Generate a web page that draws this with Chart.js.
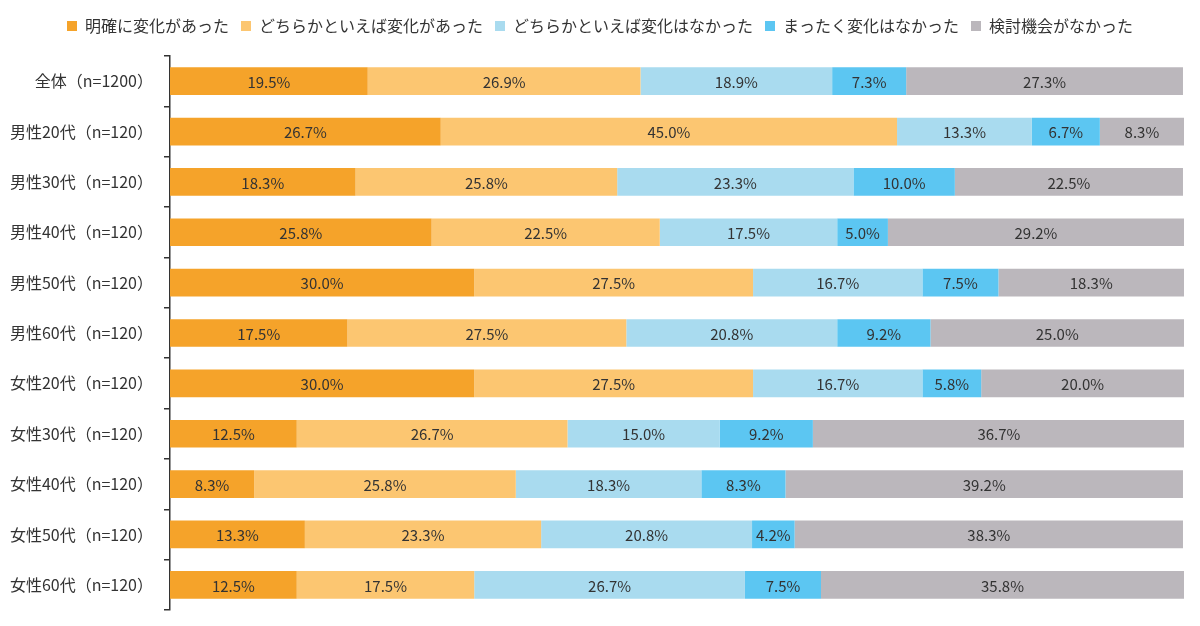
<!DOCTYPE html>
<html lang="ja">
<head>
    <meta charset="UTF-8">
    <title>Chart</title>
    <script src="https://cdn.jsdelivr.net/npm/chart.js"></script>
    <style>
        body { margin: 0; background: #fff; }
        #wrap { width: 1200px; height: 626px; }
    </style>
</head>
<body>
    <div id="wrap">
        <canvas id="grafico" width="1200" height="626"></canvas>
    </div>
    <script>
        const categorias = ["全体（n=1200）", "男性20代（n=120）", "男性30代（n=120）", "男性40代（n=120）", "男性50代（n=120）", "男性60代（n=120）", "女性20代（n=120）", "女性30代（n=120）", "女性40代（n=120）", "女性50代（n=120）", "女性60代（n=120）"]
        const series = ["明確に変化があった", "どちらかといえば変化があった", "どちらかといえば変化はなかった", "まったく変化はなかった", "検討機会がなかった"]

        const meikaku = [19.5, 26.7, 18.3, 25.8, 30.0, 17.5, 30.0, 12.5, 8.3, 13.3, 12.5]
        const dochiraAri = [26.9, 45.0, 25.8, 22.5, 27.5, 27.5, 27.5, 26.7, 25.8, 23.3, 17.5]
        const dochiraNashi = [18.9, 13.3, 23.3, 17.5, 16.7, 20.8, 16.7, 15.0, 18.3, 20.8, 26.7]
        const mattaku = [7.3, 6.7, 10.0, 5.0, 7.5, 9.2, 5.8, 9.2, 8.3, 4.2, 7.5]
        const kentou = [27.3, 8.3, 22.5, 29.2, 18.3, 25.0, 20.0, 36.7, 39.2, 38.3, 35.8]

        const cores = ["#F5A32A", "#FCC671", "#A9DBEF", "#5CC6F2", "#BBB7BC"]
        const fonte = "'Noto Sans CJK JP', 'Noto Sans', sans-serif"

        // rotulos no centro de cada segmento
        const rotulos = {
          id: 'rotulos',
          afterDatasetsDraw(chart) {
            const ctx = chart.ctx
            ctx.save()
            ctx.font = "15px " + fonte
            ctx.fillStyle = "#333"
            ctx.textAlign = "center"
            ctx.textBaseline = "middle"
            chart.data.datasets.forEach((ds, i) => {
              chart.getDatasetMeta(i).data.forEach((el, j) => {
                const v = ds.data[j]
                ctx.fillText(v.toFixed(1) + "%", (el.x + el.base) / 2, el.y + 1)
              })
            })
            ctx.restore()
          }
        }

        // espaco extra abaixo da legenda e legenda centralizada na pagina
        const ajusteLegenda = {
          id: 'ajusteLegenda',
          beforeInit(chart) {
            const fitOrig = chart.legend.fit
            chart.legend.fit = function () {
              fitOrig.bind(chart.legend)()
              this.height += 12
            }
          },
          afterLayout(chart) {
            chart.legend.left = 16
          }
        }

        const ctx = document.getElementById('grafico')
        const valores = [meikaku, dochiraAri, dochiraNashi, mattaku, kentou]

        let grafico = new Chart(ctx, {
          type: 'bar',
          data: {
            labels: categorias,
            datasets: series.map((nome, i) => ({
              label: nome,
              data: valores[i],
              backgroundColor: cores[i],
              borderWidth: 0,
              categoryPercentage: 1,
              barPercentage: 0.55
            }))
          },
          options: {
            indexAxis: 'y',
            responsive: false,
            animation: false,
            layout: { padding: { left: 0, right: 16, bottom: 16, top: 6 } },
            plugins: {
              tooltip: { enabled: false },
              legend: {
                position: 'top',
                labels: {
                  boxWidth: 10,
                  boxHeight: 10,
                  padding: 12,
                  color: "#333",
                  font: { size: 16, family: fonte }
                }
              }
            },
            scales: {
              x: {
                stacked: true,
                min: 0,
                max: 100,
                display: false
              },
              y: {
                stacked: true,
                afterFit(scale) {
                  scale.width = 170
                  scale.paddingBottom = 0
                },
                grid: {
                  offset: true,
                  drawOnChartArea: false,
                  tickLength: 6,
                  color: "#333",
                  lineWidth: 1.5
                },
                border: { color: "#333", width: 1.5 },
                ticks: {
                  color: "#333",
                  padding: 11,
                  font: { size: 16, family: fonte }
                }
              }
            }
          },
          plugins: [rotulos, ajusteLegenda]
        })
    </script>
</body>
</html>
